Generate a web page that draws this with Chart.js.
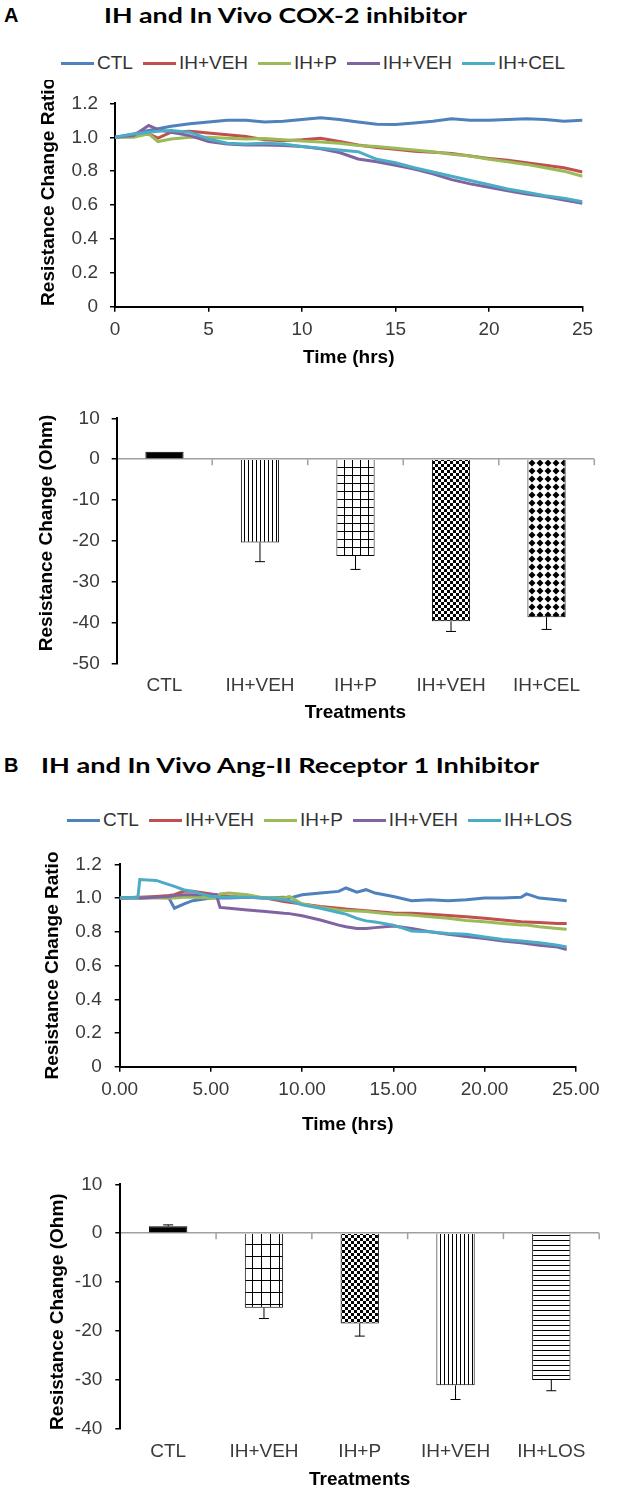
<!DOCTYPE html>
<html lang="en">
<head>
    <meta charset="UTF-8">
    <title>IH and In Vivo inhibitors</title>
    <script src="https://cdn.jsdelivr.net/npm/chart.js"></script>
    <style>
        body {
            margin: 0;
            padding: 0;
            background: #fff;
            width: 641px;
            height: 1505px;
            position: relative;
            overflow: hidden;
            font-family: 'Liberation Sans', Arial, sans-serif;
        }

        .panel-letter {
            position: absolute;
            left: 4px;
            font: bold 20px/24px 'Liberation Sans', Arial, sans-serif;
        }

        .panel-title {
            position: absolute;
            font: bold 21px/24px Lato, 'Liberation Sans', sans-serif;
            white-space: nowrap;
            transform-origin: left center;
        }

        .legend {
            position: absolute;
            display: flex;
            align-items: center;
            gap: 10px;
            font-size: 19px;
            line-height: 24px;
            color: #333;
            white-space: nowrap;
        }

        .legend .item {
            display: flex;
            align-items: center;
            gap: 3px;
        }

        .legend .swatch {
            width: 33px;
            height: 3px;
        }

        .chart-box {
            position: absolute;
            left: 0;
            width: 641px;
        }
    </style>
</head>
<body>
    <div class="panel-letter" style="top: 3px;">A</div>
    <div class="panel-title" style="top: 3px; left: 104px;" data-width="363">IH and In Vivo COX-2 inhibitor</div>
    <div class="legend" id="legendA" style="top: 51px; left: 61px;"></div>
    <div class="chart-box" style="top: 80px; height: 300px;"><canvas id="lineA"></canvas></div>
    <div class="chart-box" style="top: 395px; height: 340px;"><canvas id="barA"></canvas></div>

    <div class="panel-letter" style="top: 753px;">B</div>
    <div class="panel-title" style="top: 753px; left: 41px;" data-width="498">IH and In Vivo Ang-II Receptor 1 Inhibitor</div>
    <div class="legend" id="legendB" style="top: 808px; left: 67px;"></div>
    <div class="chart-box" style="top: 840px; height: 300px;"><canvas id="lineB"></canvas></div>
    <div class="chart-box" style="top: 1160px; height: 340px;"><canvas id="barB"></canvas></div>

<script>
// ---- data: panel A, resistance ratio over time ----
const timeA = [0, 1, 1.8, 2.3, 3, 4, 5, 6, 7, 8, 9, 10, 11, 12, 13, 14, 15, 16, 17, 18, 19, 20, 21, 22, 23, 24, 25];
const ctlA    = [1.00, 1.02, 1.04, 1.05, 1.065, 1.08, 1.09, 1.10, 1.10, 1.09, 1.095, 1.105, 1.115, 1.105, 1.09, 1.077, 1.075, 1.085, 1.095, 1.11, 1.10, 1.10, 1.105, 1.11, 1.105, 1.095, 1.10];
const ihVehA  = [1.00, 1.01, 1.02, 0.995, 1.03, 1.035, 1.025, 1.015, 1.005, 0.985, 0.98, 0.985, 0.994, 0.975, 0.955, 0.94, 0.93, 0.917, 0.912, 0.905, 0.89, 0.875, 0.865, 0.85, 0.835, 0.82, 0.795];
const ihPA    = [1.00, 1.00, 1.02, 0.975, 0.99, 1.00, 1.00, 0.995, 0.99, 0.993, 0.985, 0.978, 0.972, 0.965, 0.952, 0.945, 0.935, 0.925, 0.915, 0.90, 0.89, 0.87, 0.855, 0.84, 0.82, 0.80, 0.77];
const ihVeh2A = [1.00, 1.01, 1.07, 1.045, 1.03, 1.01, 0.975, 0.96, 0.955, 0.955, 0.952, 0.945, 0.932, 0.91, 0.872, 0.855, 0.835, 0.812, 0.785, 0.75, 0.725, 0.705, 0.685, 0.665, 0.65, 0.63, 0.61];
const ihCelA  = [1.00, 1.02, 1.03, 1.035, 1.04, 1.03, 0.99, 0.965, 0.96, 0.965, 0.96, 0.945, 0.935, 0.925, 0.915, 0.87, 0.85, 0.82, 0.795, 0.77, 0.745, 0.72, 0.695, 0.675, 0.655, 0.64, 0.62];
const namesA = ['CTL', 'IH+VEH', 'IH+P', 'IH+VEH', 'IH+CEL'];

// ---- data: panel A, resistance change bars ----
const treatA = ['CTL', 'IH+VEH', 'IH+P', 'IH+VEH', 'IH+CEL'];
const changeA = [1.8, -20.4, -23.7, -39.7, -38.7];
const errA = [0, 4.7, 3.3, 2.5, 3.0];
const fillsA = ['solid', 'vlines', 'grid', 'checker', 'diamond'];

// ---- data: panel B, resistance ratio over time ----
const timeB = [0, 1, 1.1, 2, 2.7, 3, 3.5, 4, 5, 5.3, 5.5, 6, 7, 8, 9, 9.3, 10, 11, 12, 12.4, 13, 13.5, 14, 15, 16, 17, 18, 19, 20, 21, 22, 22.3, 23, 24, 24.5];
const ctlB    = [1.00, 1.005, 1.00, 1.005, 1.00, 0.94, 0.965, 0.985, 1.00, 1.00, 1.00, 1.00, 1.005, 1.00, 1.005, 1.00, 1.02, 1.03, 1.04, 1.06, 1.035, 1.05, 1.03, 1.01, 0.985, 0.99, 0.985, 0.99, 1.00, 1.00, 1.005, 1.025, 1.00, 0.99, 0.985];
const ihVehB  = [1.00, 1.005, 1.005, 1.01, 1.015, 1.02, 1.04, 1.04, 1.025, 1.02, 1.015, 1.01, 1.005, 1.00, 0.98, 0.975, 0.965, 0.95, 0.94, 0.935, 0.93, 0.925, 0.92, 0.912, 0.91, 0.905, 0.897, 0.89, 0.88, 0.87, 0.86, 0.858, 0.855, 0.85, 0.85];
const ihPB    = [1.00, 1.00, 1.00, 1.00, 1.00, 1.00, 1.005, 1.005, 1.00, 1.00, 1.025, 1.03, 1.02, 1.00, 1.00, 1.01, 0.965, 0.945, 0.93, 0.927, 0.924, 0.92, 0.915, 0.905, 0.90, 0.89, 0.88, 0.867, 0.86, 0.85, 0.84, 0.84, 0.83, 0.82, 0.815];
const ihVeh2B = [1.00, 1.00, 1.00, 1.005, 1.01, 1.015, 1.02, 1.02, 1.02, 1.02, 0.945, 0.94, 0.93, 0.92, 0.91, 0.908, 0.895, 0.87, 0.84, 0.83, 0.82, 0.82, 0.825, 0.835, 0.82, 0.80, 0.785, 0.772, 0.76, 0.745, 0.735, 0.73, 0.72, 0.71, 0.695];
const ihLosB  = [1.00, 1.005, 1.11, 1.105, 1.08, 1.07, 1.05, 1.04, 1.01, 1.01, 1.005, 1.005, 1.005, 1.00, 0.99, 0.985, 0.96, 0.94, 0.915, 0.905, 0.88, 0.865, 0.858, 0.84, 0.805, 0.80, 0.79, 0.785, 0.77, 0.755, 0.745, 0.742, 0.735, 0.72, 0.71];
const namesB = ['CTL', 'IH+VEH', 'IH+P', 'IH+VEH', 'IH+LOS'];

// ---- data: panel B, resistance change bars ----
const treatB = ['CTL', 'IH+VEH', 'IH+P', 'IH+VEH', 'IH+LOS'];
const changeB = [1.4, -15.3, -18.5, -31.2, -30.1];
const errB = [0.3, 2.2, 2.6, 2.9, 2.2];
const fillsB = ['solid', 'gridTall', 'checker', 'vlines', 'hlines'];

const lineColors = ['#4F81BD', '#C0504D', '#9BBB59', '#8064A2', '#4BACC6'];
const FONT = "'Liberation Sans', Arial, sans-serif";
const TICK_COLOR = '#3a3a3a';

Chart.defaults.font.family = FONT;
Chart.defaults.animation = false;

// legend built as html so the spacing matches the figure
function buildLegend(id, names) {
    const box = document.getElementById(id);
    names.forEach(function (name, i) {
        const item = document.createElement('div');
        item.className = 'item';
        item.innerHTML = '<span class="swatch" style="background:' + lineColors[i] + '"></span><span>' + name + '</span>';
        box.appendChild(item);
    });
}

// small tiles for the black & white bar fills
function makeFill(kind) {
    if (kind === 'solid') return '#000';
    const c = document.createElement('canvas');
    const g = c.getContext('2d');
    let w = 4, h = 4;
    if (kind === 'hlines') { w = 5; h = 5; }
    if (kind === 'grid') { w = 8; h = 8; }
    if (kind === 'gridTall') { w = 9; h = 12; }
    if (kind === 'checker') { w = 6; h = 6; }
    if (kind === 'diamond') { w = 8; h = 8; }
    c.width = w; c.height = h;
    g.fillStyle = '#fff';
    g.fillRect(0, 0, w, h);
    g.fillStyle = '#000';
    if (kind === 'vlines') g.fillRect(0, 0, 1, h);
    if (kind === 'hlines') g.fillRect(0, 0, w, 1);
    if (kind === 'grid' || kind === 'gridTall') {
        g.fillRect(0, 0, w, 1);
        g.fillRect(0, 0, 1, h);
    }
    if (kind === 'checker') {
        g.fillRect(0, 0, 3, 3);
        g.fillRect(3, 3, 3, 3);
    }
    if (kind === 'diamond') {
        g.beginPath();
        g.moveTo(4, 0.5);
        g.lineTo(7.5, 4);
        g.lineTo(4, 7.5);
        g.lineTo(0.5, 4);
        g.closePath();
        g.fill();
    }
    return g.createPattern(c, 'repeat');
}

const errorBars = {
    id: 'errorBars',
    afterDatasetsDraw(chart, args, opts) {
        const ctx = chart.ctx;
        const yScale = chart.scales.y;
        const values = chart.data.datasets[0].data;
        ctx.save();
        ctx.strokeStyle = '#000';
        ctx.lineWidth = 1;
        chart.getDatasetMeta(0).data.forEach(function (bar, i) {
            const e = opts.errors[i];
            if (!e) return;
            const v = values[i];
            const end = v >= 0 ? v + e : v - e;
            const y0 = yScale.getPixelForValue(v);
            const y1 = yScale.getPixelForValue(end);
            ctx.beginPath();
            ctx.moveTo(bar.x, y0);
            ctx.lineTo(bar.x, y1);
            ctx.moveTo(bar.x - 5, y1);
            ctx.lineTo(bar.x + 5, y1);
            ctx.stroke();
        });
        ctx.restore();
    }
};

// excel style little marks under the zero line between categories
const zeroTicks = {
    id: 'zeroTicks',
    afterDraw(chart) {
        const ctx = chart.ctx;
        const x = chart.scales.x;
        const y0 = chart.scales.y.getPixelForValue(0);
        ctx.save();
        ctx.strokeStyle = '#a0a0a0';
        ctx.lineWidth = 1.5;
        for (let i = 0; i < chart.data.labels.length; i++) {
            const px = x.getPixelForValue(i + 0.5);
            ctx.beginPath();
            ctx.moveTo(px, y0);
            ctx.lineTo(px, y0 + 6);
            ctx.stroke();
        }
        ctx.restore();
    }
};

function axisTitle(text) {
    return {
        display: true,
        text: text,
        color: '#000',
        font: { family: FONT, size: 19, weight: 'bold' },
        padding: { top: 0, bottom: 0 }
    };
}

function makeLineChart(id, times, series, box) {
    const datasets = series.map(function (vals, i) {
        return {
            data: vals.map(function (v, k) { return { x: times[k], y: v }; }),
            borderColor: lineColors[i],
            borderWidth: 3,
            pointRadius: 0,
            tension: 0,
            order: series.length - i
        };
    });
    return new Chart(document.getElementById(id), {
        type: 'line',
        data: { datasets: datasets },
        options: {
            responsive: true,
            maintainAspectRatio: false,
            layout: { padding: { top: box.top, left: box.left, right: box.right, bottom: box.bottom } },
            plugins: { legend: { display: false }, tooltip: { enabled: false } },
            scales: {
                x: {
                    type: 'linear',
                    min: 0,
                    max: 25,
                    afterFit: function (s) { s.height = box.xHeight; },
                    border: { color: '#000', width: 2 },
                    grid: { drawOnChartArea: false, drawTicks: true, tickLength: 5, color: '#000', lineWidth: 1.5 },
                    ticks: {
                        stepSize: 5,
                        padding: box.xPad,
                        color: TICK_COLOR,
                        font: { size: 19 },
                        maxRotation: 0,
                        callback: box.xFormat
                    },
                    title: axisTitle('Time (hrs)')
                },
                y: {
                    min: 0,
                    max: 1.2,
                    afterFit: function (s) { s.width = box.yWidth; },
                    border: { color: '#000', width: 2 },
                    grid: { drawOnChartArea: false, drawTicks: true, tickLength: 5, color: '#000', lineWidth: 1.5 },
                    ticks: { stepSize: 0.2, padding: box.yPad, color: TICK_COLOR, font: { size: 19 } },
                    title: axisTitle(box.yTitle)
                }
            }
        }
    });
}

function makeBarChart(id, cats, values, errors, fills, yMin, box) {
    return new Chart(document.getElementById(id), {
        type: 'bar',
        data: {
            labels: cats,
            datasets: [{
                data: values,
                backgroundColor: fills.map(makeFill),
                borderColor: '#000',
                borderWidth: 1,
                barPercentage: 0.4,
                categoryPercentage: 1
            }]
        },
        options: {
            responsive: true,
            maintainAspectRatio: false,
            layout: { padding: { top: box.top, left: box.left, right: box.right, bottom: box.bottom } },
            plugins: {
                legend: { display: false },
                tooltip: { enabled: false },
                errorBars: { errors: errors }
            },
            scales: {
                x: {
                    afterFit: function (s) { s.height = box.xHeight; },
                    border: { display: false },
                    grid: { display: false, drawTicks: false },
                    ticks: { padding: box.xPad, color: TICK_COLOR, font: { size: 19 }, maxRotation: 0 },
                    title: axisTitle('Treatments')
                },
                y: {
                    min: yMin,
                    max: 10,
                    afterFit: function (s) { s.width = box.yWidth; },
                    border: { color: '#000', width: 2 },
                    grid: {
                        drawTicks: true,
                        tickLength: 5,
                        tickColor: '#000',
                        lineWidth: 1.5,
                        color: function (c) { return c.tick && c.tick.value === 0 ? '#a0a0a0' : 'rgba(0,0,0,0)'; }
                    },
                    ticks: { stepSize: 10, padding: box.yPad, color: TICK_COLOR, font: { size: 19 } },
                    title: axisTitle(box.yTitle)
                }
            }
        },
        plugins: [errorBars, zeroTicks]
    });
}

buildLegend('legendA', namesA);
buildLegend('legendB', namesB);

// leading / trailing spaces nudge the rotated titles along the axis like in the figure
makeLineChart('lineA', timeA, [ctlA, ihVehA, ihPA, ihVeh2A, ihCelA], {
    top: 17.4, left: 37.6, right: 58.5, bottom: 10.6,
    xHeight: 62.7, yWidth: 77.4, xPad: 7, yPad: 12,
    yTitle: '     Resistance Change Ratio'
});

makeBarChart('barA', treatA, changeA, errA, fillsA, -50, {
    top: 17.3, left: 35.6, right: 46.7, bottom: 10.6,
    xHeight: 61.1, yWidth: 81.1, xPad: 11.3, yPad: 12,
    yTitle: '   Resistance Change (Ohm)'
});

makeLineChart('lineB', timeB, [ctlB, ihVehB, ihPB, ihVeh2B, ihLosB], {
    top: 15.9, left: 41.6, right: 65.2, bottom: 3.6,
    xHeight: 69.7, yWidth: 78.1, xPad: 7, yPad: 13,
    yTitle: 'Resistance Change Ratio',
    xFormat: function (v) { return Number(v).toFixed(2); }
});

makeBarChart('barB', treatB, changeB, errB, fillsB, -40, {
    top: 18.3, left: 46, right: 41.8, bottom: 8.6,
    xHeight: 63.1, yWidth: 74.3, xPad: 12, yPad: 13,
    yTitle: 'Resistance Change (Ohm)  '
});

// stretch the panel titles to the width they take in the figure
document.querySelectorAll('.panel-title').forEach(function (el) {
    const target = parseFloat(el.dataset.width);
    const w = el.getBoundingClientRect().width;
    if (w > 0) el.style.transform = 'scaleX(' + (target / w) + ')';
});
</script>
</body>
</html>
